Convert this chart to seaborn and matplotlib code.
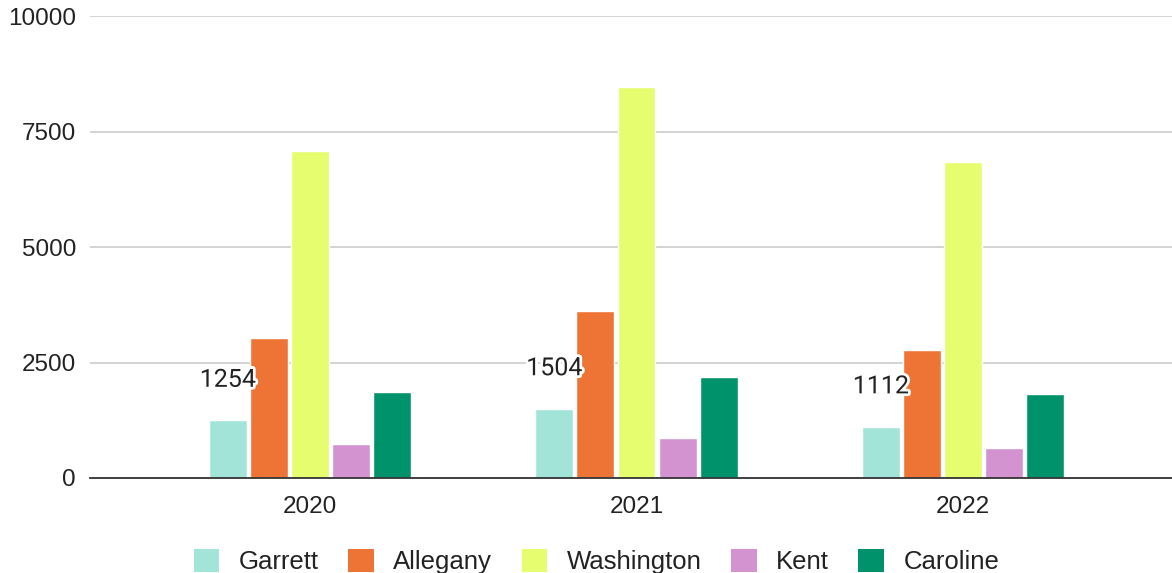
import matplotlib
matplotlib.use("Agg")
import matplotlib.pyplot as plt
import seaborn as sns
import pandas as pd
import matplotlib.patheffects as pe

years = ["2020", "2021", "2022"]
counties = ["Garrett", "Allegany", "Washington", "Kent", "Caroline"]
garrett = [1254, 1504, 1112]
allegany = [3030, 3620, 2770]
washington = [7070, 8470, 6840]
kent = [740, 870, 650]
caroline = [1870, 2190, 1820]
yticks = [0, 2500, 5000, 7500, 10000]

colors = ["#A2E5D8", "#EE7436", "#E5FD6E", "#D293D0", "#00936B"]

series = [garrett, allegany, washington, kent, caroline]
rows = []
for c, vals in zip(counties, series):
    for y, v in zip(years, vals):
        rows.append({"Year": y, "County": c, "Value": v})
df = pd.DataFrame(rows)

sns.set_theme(style="white")
plt.rcParams["font.family"] = ["Liberation Sans", "DejaVu Sans"]

fig = plt.figure(figsize=(11.72, 5.73), dpi=100)
ax = fig.add_axes([0.0768, 0.1658, 0.9232, 0.8062])

sns.barplot(data=df, x="Year", y="Value", hue="County", order=years,
            hue_order=counties, palette=colors, width=0.63, gap=0.08,
            saturation=1, ax=ax, legend=True, errorbar=None)

ax.set_ylim(0, 10000)
ax.set_xlim(-0.674, 2.64)
ax.set_yticks(yticks)
ax.set_yticklabels([str(t) for t in yticks])
ax.grid(axis="y", color="#CCCCCC", linewidth=1.2)
ax.set_axisbelow(True)
for s in ["left", "right", "top"]:
    ax.spines[s].set_visible(False)
ax.spines["bottom"].set_color("#333333")
ax.spines["bottom"].set_linewidth(1.3)
ax.set_xlabel("")
ax.set_ylabel("")
ax.tick_params(axis="both", length=0, labelsize=17.5, colors="#222222")
ax.tick_params(axis="y", pad=10)
ax.tick_params(axis="x", pad=13)

# data labels for Garrett
garrett_container = ax.containers[0]
for bar, v in zip(garrett_container, garrett):
    x = bar.get_x() + bar.get_width() / 2
    ax.annotate(str(v), (x, v), xytext=(0, 29), textcoords="offset points",
                ha="center", va="center", fontsize=18, family="Roboto",
                color="#222222",
                path_effects=[pe.withStroke(linewidth=4, foreground="white")])

ax.legend_.remove()
handles = [plt.Rectangle((0, 0), 1, 1, facecolor=c, edgecolor="none") for c in colors]
fig.legend(handles, counties, loc="lower center", bbox_to_anchor=(0.509, -0.042),
           ncol=5, frameon=False, fontsize=18.5, handlelength=1.0, handleheight=1.0,
           handletextpad=0.75, columnspacing=1.15, labelcolor="#222222")

fig.savefig("out.png", dpi=100)
